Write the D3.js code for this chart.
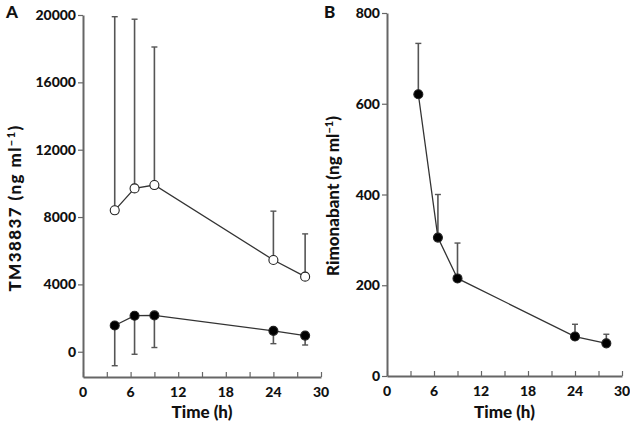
<!DOCTYPE html>
<html><head><meta charset="utf-8">
<script src="https://cdn.jsdelivr.net/npm/d3@7"></script>
<style>
body{margin:0;background:#fff;}
text{font-family:Lato,"Open Sans",sans-serif;font-weight:900;fill:#111;}
</style></head>
<body><svg id="c" width="630" height="422"></svg>
<script>
// Data
const times = [4, 6.5, 9, 24, 28];
const tmOpen = [8400, 9700, 9900, 5450, 4460];
const tmOpenUpper = [19900, 19750, 18100, 8350, 7000];
const tmFilled = [1560, 2140, 2160, 1240, 960];
const tmFilledLower = [-830, -150, 250, 480, 400];
const rimo = [621, 305, 215, 87, 72];
const rimoUpper = [733, 400, 293, 114, 92];
const xTicks = [0, 6, 12, 18, 24, 30];
const yTicksA = [0, 4000, 8000, 12000, 16000, 20000];
const yTicksB = [0, 200, 400, 600, 800];

const svg = d3.select("#c");
const lineCol = "#333", axisCol = "#666";

function panel(opt){
  const g = svg.append("g");
  const x = d3.scaleLinear().domain([0,30]).range(opt.xr);
  const y = d3.scaleLinear().domain(opt.yd).range(opt.yr);
  const xa = g.append("g").attr("transform",`translate(0,${opt.yr[0]})`)
    .call(d3.axisBottom(x).tickValues(d3.range(0,31,3)).tickSizeInner(-5).tickSizeOuter(0).tickFormat(""));
  xa.select(".domain").attr("stroke",axisCol).attr("stroke-width",2);
  xa.selectAll(".tick line").attr("stroke",axisCol).attr("stroke-width",1.2);
  g.selectAll(".xl").data(xTicks).join("text").attr("x",d=>x(d)).attr("y",opt.yr[0]+20)
    .attr("text-anchor","middle").attr("font-size",14).text(d=>d);
  const ya = g.append("g").attr("transform",`translate(${opt.xr[0]},0)`)
    .call(d3.axisLeft(y).tickValues(opt.yt).tickSize(5).tickSizeOuter(0).tickFormat(""));
  ya.select(".domain").attr("stroke",axisCol).attr("stroke-width",2);
  ya.selectAll(".tick line").attr("stroke",axisCol).attr("stroke-width",1.2);
  g.selectAll(".yl").data(opt.yt).join("text").attr("x",opt.xr[0]-7).attr("y",d=>y(d)+5)
    .attr("text-anchor","end").attr("font-size",14).text(d=>d);
  g.append("text").attr("x",(opt.xr[0]+opt.xr[1])/2).attr("y",418).attr("text-anchor","middle")
    .attr("font-size",17).text("Time (h)");
  const t = g.append("text").attr("transform",`translate(${opt.tx},${opt.ty}) rotate(-90)`)
    .attr("text-anchor","middle").attr("font-size",17).attr("letter-spacing",opt.ls);
  t.append("tspan").text(opt.title+" (ng ml");
  t.append("tspan").attr("dy",-6).attr("font-size",11).text("−1");
  t.append("tspan").attr("dy",6).text(")");
  g.append("text").attr("x",opt.lx).attr("y",18).attr("font-size",17).text(opt.letter);
  return {g,x,y};
}

function series(p, vals, bars, filled){
  const {g,x,y} = p;
  times.forEach((t,i)=>{
    g.append("line").attr("x1",x(t)).attr("x2",x(t)).attr("y1",y(vals[i])).attr("y2",y(bars[i]))
      .attr("stroke","#555").attr("stroke-width",1.6);
    g.append("line").attr("x1",x(t)-3).attr("x2",x(t)+3).attr("y1",y(bars[i])).attr("y2",y(bars[i]))
      .attr("stroke","#555").attr("stroke-width",1.4);
  });
  g.append("path").datum(vals).attr("fill","none").attr("stroke",lineCol).attr("stroke-width",1.3)
    .attr("d",d3.line().x((d,i)=>x(times[i])).y(d=>y(d)));
  g.selectAll(null).data(vals).join("circle").attr("cx",(d,i)=>x(times[i])).attr("cy",d=>y(d))
    .attr("r",4.5).attr("fill",filled?"#000":"#fff").attr("stroke","#222").attr("stroke-width",1.1);
}

const A = panel({xr:[83,321], yr:[377,15], yd:[-1500,20000], yt:yTicksA, tx:21, ty:208,
  title:"TM38837", letter:"A", lx:6, ls:1.4});
series(A, tmOpen, tmOpenUpper, false);
series(A, tmFilled, tmFilledLower, true);

const B = panel({xr:[387,622], yr:[376,13], yd:[0,800], yt:yTicksB, tx:339, ty:196,
  title:"Rimonabant", letter:"B", lx:324, ls:0});
series(B, rimo, rimoUpper, true);
</script></body></html>
